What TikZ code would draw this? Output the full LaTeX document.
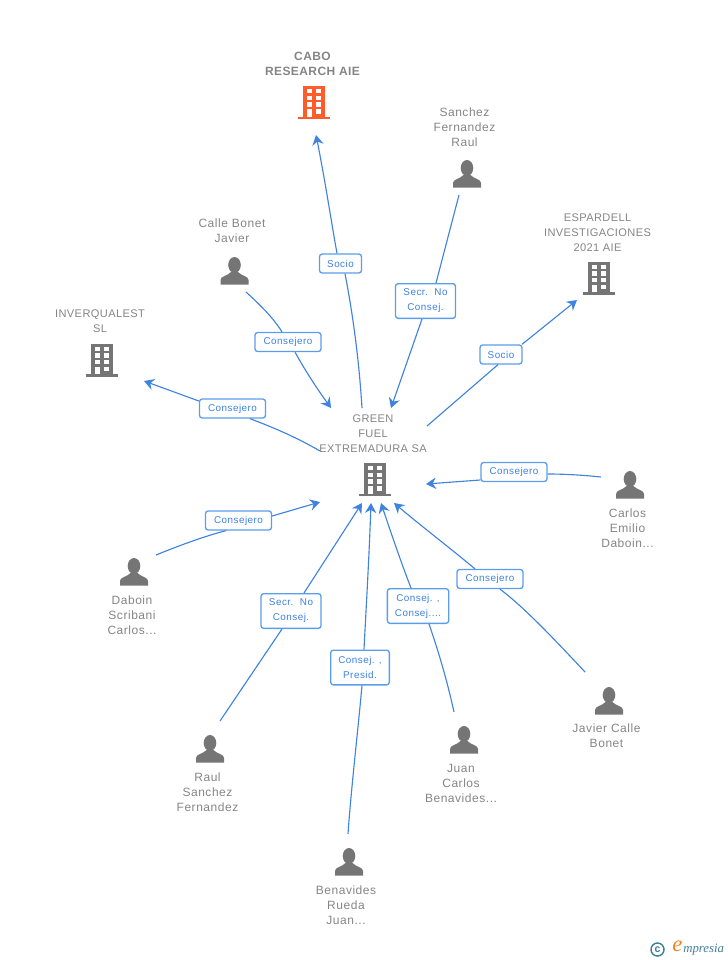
\documentclass[tikz,border=0pt]{standalone}
\usepackage{fontspec}
\setmainfont{Liberation Sans}
\newfontfamily\upfont[LetterSpace=3.5]{Liberation Sans}
\newfontfamily\namefont[LetterSpace=4.5]{Liberation Sans}
\newfontfamily\tagfont[LetterSpace=5]{Liberation Sans}
\newfontfamily\logofont{Liberation Serif}
\usetikzlibrary{arrows.meta}
\definecolor{edgeblue}{HTML}{3F83DF}
\definecolor{boxblue}{HTML}{5C9DEB}
\definecolor{textblue}{HTML}{3C82E0}
\definecolor{iconGrey}{HTML}{757575}
\definecolor{textGrey}{HTML}{858585}
\definecolor{hot}{HTML}{FF5C2B}
\definecolor{logoteal}{HTML}{3F7F97}
\definecolor{logoorange}{HTML}{F58220}
\tikzset{
  x=0.75pt,y=-0.75pt,
  edgeline/.style={draw=edgeblue,line width=0.85pt},
  arr/.style={edgeline,-{Stealth[length=7.5pt,width=8.5pt,inset=2.5pt]}},
  tagbox/.style={draw=boxblue,line width=1pt,rounded corners=2pt,fill=white,text=textblue,
    font=\fontsize{7.4pt}{11.2pt}\tagfont,align=center,inner sep=0pt,minimum height=14.2pt},
  tagone/.style={tagbox,minimum width=49.5pt},
  tagsoc/.style={tagbox,minimum width=31.5pt},
  tagtwo/.style={tagbox,minimum height=26pt,minimum width=45pt},
  nametext/.style={text=textGrey,font=\fontsize{9pt}{11.25pt}\namefont,align=center,inner sep=0pt},
  upname/.style={nametext,font=\fontsize{8.3pt}{11.25pt}\upfont},
  capname/.style={nametext,font=\fontsize{9pt}{11.25pt}\upfont\bfseries},
  pics/bldg/.style={code={
    \fill[#1] (-11,-16) rectangle (11,15);
    \fill[#1] (-16,14.5) rectangle (16,17);
    \foreach \cx in {-7,2.2}{
      \foreach \cy in {-13,-6.3,0.4}{
        \fill[white] (\cx,\cy) rectangle ++(4.8,4.4);
      }
    }
    \fill[white] (-7,7.2) rectangle (-2.2,14.5);
    \fill[white] (2.2,7.2) rectangle (7,11.7);
  }},
  pics/person/.style={code={
    \fill[iconGrey] (0,-6) ellipse[x radius=6.3,y radius=8];
    \fill[iconGrey] (-14,13.5) -- (-14,9) .. controls (-14,5) and (-7,5) .. (-3.5,1) -- (3.5,1)
      .. controls (7,5) and (14,5) .. (14,9) -- (14,13.5) -- cycle;
  }},
}
\begin{document}
\begin{tikzpicture}
\useasboundingbox (0,0) rectangle (728,960);
% free ends
\coordinate (s1) at (362,408);   \coordinate (e1) at (316,135);
\coordinate (s2) at (459,195);   \coordinate (e2) at (391,408);
\coordinate (s3) at (427,426);   \coordinate (e3) at (577,300);
\coordinate (s4) at (246,292);   \coordinate (e4) at (331,408);
\coordinate (s5) at (320,451);   \coordinate (e5) at (144,381);
\coordinate (s6) at (601,477);   \coordinate (e6) at (426,484);
\coordinate (s7) at (156,555);   \coordinate (e7) at (320,502);
\coordinate (s8) at (220,721);   \coordinate (e8) at (362,503);
\coordinate (s9) at (348,834);   \coordinate (e9) at (371,503);
\coordinate (s10) at (454,712);  \coordinate (e10) at (381,503);
\coordinate (s11) at (585,672);  \coordinate (e11) at (394,503);
% connector labels
\node[tagsoc] (l1) at (340.5,263.5) {Socio};
\node[tagtwo] (l2) at (425.5,301) {Secr.\ \ No\\Consej.};
\node[tagsoc] (l3) at (501,354.5) {Socio};
\node[tagone] (l4) at (288,342) {Consejero};
\node[tagone] (l5) at (232.5,408.5) {Consejero};
\node[tagone] (l6) at (514,472) {Consejero};
\node[tagone] (l7) at (238.5,520.5) {Consejero};
\node[tagtwo] (l8) at (291,611) {Secr.\ \ No\\Consej.};
\node[tagtwo,minimum width=44pt] (l9) at (360,667.5) {Consej. ,\\Presid.};
\node[tagtwo,minimum width=46pt] (l10) at (418,606) {Consej. ,\\Consej....};
\node[tagone] (l11) at (490,579) {Consejero};
% connectors
\draw[edgeline] (s1) .. controls (359,360) and (353,315) .. (l1.south -| 345,0);
\draw[arr] (l1.north -| 337,0) .. controls (331,220) and (325,180) .. (e1);
\draw[edgeline] (s2) -- (l2.north -| 436,0);
\draw[arr] (l2.south -| 422,0) -- (e2);
\draw[edgeline] (s3) -- (l3.south -| 498,0);
\draw[arr] (l3.north -| 522,0) -- (e3);
\draw[edgeline] (s4) .. controls (258,303) and (272,316) .. (l4.north -| 282,0);
\draw[arr] (l4.south -| 295,0) .. controls (306,372) and (318,390) .. (e4);
\draw[edgeline] (s5) .. controls (296,437) and (272,427) .. (l5.south -| 250,0);
\draw[arr] (l5.west |- 0,401) -- (e5);
\draw[edgeline] (s6) .. controls (582,475) and (564,474) .. (l6.east |- 0,474);
\draw[arr] (l6.west |- 0,480) -- (e6);
\draw[edgeline] (s7) .. controls (178,546) and (205,536) .. (l7.south -| 226,0);
\draw[arr] (l7.east |- 0,516) -- (e7);
\draw[edgeline] (s8) -- (l8.south -| 282,0);
\draw[arr] (l8.north -| 304,0) -- (e8);
\draw[edgeline] (s9) .. controls (351,790) and (358,730) .. (l9.south -| 362,0);
\draw[arr] (l9.north -| 364,0) .. controls (366,610) and (369,560) .. (e9);
\draw[edgeline] (s10) .. controls (447,680) and (438,650) .. (l10.south -| 429,0);
\draw[arr] (l10.north -| 411,0) .. controls (402,565) and (390,530) .. (e10);
\draw[edgeline] (s11) .. controls (555,640) and (525,608) .. (l11.south -| 500,0);
\draw[arr] (l11.north -| 475,0) .. controls (450,548) and (420,525) .. (e11);
% company nodes
\node[capname] (cabo) at (312.5,63.5) {CABO\\RESEARCH AIE};
\pic at (314,102) {bldg=hot};
\node[upname] (esp) at (597.5,232.5) {ESPARDELL\\INVESTIGACIONES\\2021 AIE};
\pic at (599,277.5) {bldg=iconGrey};
\node[upname] (inv) at (100,321.5) {INVERQUALEST\\SL};
\pic at (102,359.5) {bldg=iconGrey};
\node[upname] (green) at (373,434) {GREEN\\FUEL\\EXTREMADURA SA};
\pic at (375,479) {bldg=iconGrey};
% person nodes
\node[nametext] (sfr) at (464.5,127) {Sanchez\\Fernandez\\Raul};
\pic at (467,174) {person};
\node[nametext] (cbj) at (232,231) {Calle Bonet\\Javier};
\pic at (234.5,271) {person};
\node[nametext] (ced) at (627.5,528) {Carlos\\Emilio\\Daboin...};
\pic at (630,485) {person};
\node[nametext] (dsc) at (132,615) {Daboin\\Scribani\\Carlos...};
\pic at (134,572) {person};
\node[nametext] (jcb) at (606.5,735.5) {Javier Calle\\Bonet};
\pic at (609,701) {person};
\node[nametext] (rsf) at (207.5,792) {Raul\\Sanchez\\Fernandez};
\pic at (210,749) {person};
\node[nametext] (jcben) at (461,783) {Juan\\Carlos\\Benavides...};
\pic at (464,740) {person};
\node[nametext] (brj) at (346,905) {Benavides\\Rueda\\Juan...};
\pic at (349,862) {person};
% logo
\draw[logoteal,line width=1.1pt] (657.5,949.5) circle[radius=6.5];
\node[text=logoteal,font=\fontsize{8pt}{8pt}\selectfont\bfseries,inner sep=0pt] (copy) at (657.5,949.5) {c};
\node[text=logoorange,font=\fontsize{17pt}{17pt}\logofont\itshape,inner sep=0pt] (logoe) at (677.5,946.5) {e};
\node[text=logoteal,font=\fontsize{9.6pt}{9.6pt}\logofont\itshape,inner sep=0pt,anchor=west] (logot) at (683,950) {mpresia};
\end{tikzpicture}
\end{document}
